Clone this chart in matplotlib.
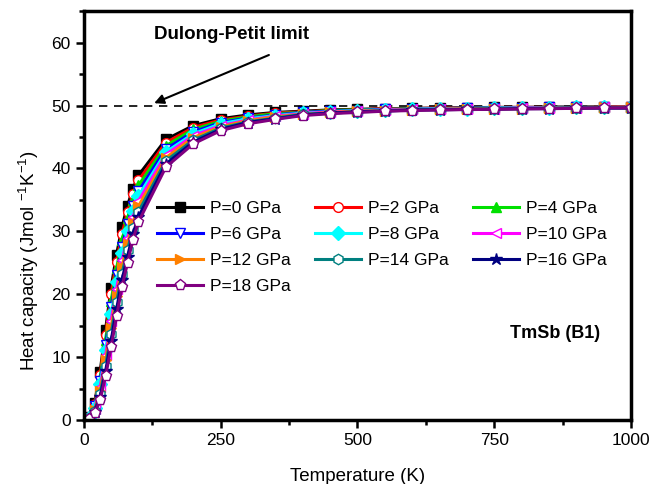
import matplotlib

matplotlib.use("Agg")
import matplotlib.pyplot as plt
from matplotlib.ticker import MultipleLocator

plt.rcParams["font.family"] = ["Liberation Sans", "DejaVu Sans"]
plt.rcParams["mathtext.fontset"] = "custom"
plt.rcParams["mathtext.rm"] = "Liberation Sans"

# temperature grid (K)
temps = [10, 20, 30, 40, 50, 60, 70, 80, 90, 100,
         150, 200, 250, 300, 350, 400, 450, 500, 550, 600,
         650, 700, 750, 800, 850, 900, 950, 1000]

cv_p0 = [0.5, 2.7, 7.7, 14.4, 21.0, 26.3, 30.7, 34.1, 36.8, 38.9,
         44.6, 46.8, 47.9, 48.5, 48.9, 49.1, 49.3, 49.4, 49.5, 49.55,
         49.6, 49.65, 49.7, 49.7, 49.75, 49.75, 49.8, 49.8]
cv_p2 = [0.5, 2.5, 7.2, 13.6, 20.0, 25.2, 29.6, 33.1, 35.9, 38.1,
         44.1, 46.5, 47.7, 48.3, 48.8, 49.0, 49.2, 49.3, 49.5, 49.5,
         49.6, 49.6, 49.7, 49.7, 49.7, 49.7, 49.8, 49.8]
cv_p4 = [0.4, 2.3, 6.7, 12.8, 18.9, 24.1, 28.6, 32.1, 35.0, 37.3,
         43.6, 46.2, 47.5, 48.2, 48.7, 48.9, 49.2, 49.3, 49.4, 49.5,
         49.5, 49.6, 49.6, 49.6, 49.7, 49.7, 49.7, 49.7]
cv_p6 = [0.4, 2.2, 6.2, 11.9, 17.9, 23.0, 27.5, 31.1, 34.1, 36.4,
         43.1, 45.8, 47.3, 48.0, 48.5, 48.9, 49.1, 49.2, 49.4, 49.4,
         49.5, 49.6, 49.6, 49.6, 49.7, 49.7, 49.7, 49.7]
cv_p8 = [0.4, 2.0, 5.7, 11.1, 16.8, 21.9, 26.5, 30.1, 33.2, 35.6,
         42.6, 45.5, 47.1, 47.9, 48.4, 48.8, 49.0, 49.2, 49.3, 49.4,
         49.5, 49.5, 49.6, 49.6, 49.6, 49.7, 49.7, 49.7]
cv_p10 = [0.3, 1.8, 5.2, 10.3, 15.8, 20.9, 25.4, 29.0, 32.3, 34.8,
          42.2, 45.2, 46.8, 47.7, 48.3, 48.7, 49.0, 49.1, 49.3, 49.4,
          49.4, 49.5, 49.5, 49.6, 49.6, 49.6, 49.7, 49.7]
cv_p12 = [0.3, 1.6, 4.7, 9.5, 14.7, 19.8, 24.4, 28.0, 31.4, 34.0,
          41.7, 44.9, 46.6, 47.6, 48.2, 48.6, 48.9, 49.1, 49.2, 49.3,
          49.4, 49.5, 49.5, 49.5, 49.6, 49.6, 49.7, 49.7]
cv_p14 = [0.3, 1.5, 4.2, 8.6, 13.7, 18.7, 23.3, 27.0, 30.5, 33.1,
          41.2, 44.5, 46.4, 47.4, 48.0, 48.6, 48.8, 49.0, 49.2, 49.3,
          49.4, 49.4, 49.5, 49.5, 49.6, 49.6, 49.6, 49.6]
cv_p16 = [0.2, 1.3, 3.7, 7.8, 12.6, 17.6, 22.3, 26.0, 29.6, 32.3,
          40.7, 44.2, 46.2, 47.3, 47.9, 48.5, 48.8, 49.0, 49.1, 49.3,
          49.3, 49.4, 49.4, 49.5, 49.5, 49.6, 49.6, 49.6]
cv_p18 = [0.2, 1.1, 3.2, 7.0, 11.6, 16.5, 21.2, 25.0, 28.7, 31.5,
          40.2, 43.9, 46.0, 47.1, 47.8, 48.4, 48.7, 48.9, 49.1, 49.2,
          49.3, 49.35, 49.4, 49.45, 49.5, 49.55, 49.6, 49.6]

labels = ["P=0 GPa", "P=2 GPa", "P=4 GPa", "P=6 GPa", "P=8 GPa",
          "P=10 GPa", "P=12 GPa", "P=14 GPa", "P=16 GPa", "P=18 GPa"]
series = [cv_p0, cv_p2, cv_p4, cv_p6, cv_p8,
          cv_p10, cv_p12, cv_p14, cv_p16, cv_p18]
colors = ["#000000", "#ff0000", "#00e000", "#0000ff", "#00ffff",
          "#ff00ff", "#ff8000", "#008080", "#000080", "#800080"]
markers = ["s", "o", "^", "v", "D", "<", ">", "h", "*", "p"]
filled = [True, False, True, False, True, False, True, False, True, False]
dulong_petit = 49.9

fig = plt.figure(figsize=(6.54, 4.84), dpi=100)
ax = fig.add_axes([0.128, 0.132, 0.837, 0.845])

handles = []
for cv, lab, c, m, f in zip(series, labels, colors, markers, filled):
    ms = {"*": 9, "p": 8, "h": 7.5}.get(m, 7)
    h, = ax.plot(temps, cv, color=c, lw=2.2, marker=m, ms=ms,
                 mfc=c if f else "white", mec=c, mew=1.0, label=lab)
    handles.append(h)

ax.axhline(dulong_petit, color="black", ls=(0, (5, 4)), lw=1.2, zorder=0)

ax.annotate("", xy=(124, 50.2), xytext=(343, 58.2),
            arrowprops=dict(arrowstyle="-|>", color="black", lw=1.5,
                            mutation_scale=14))
ax.text(271, 61.3, "Dulong-Petit limit", fontsize=13.5, fontweight="bold",
        ha="center", va="center")
ax.text(861, 13.8, "TmSb (B1)", fontsize=13, fontweight="bold",
        ha="center", va="center")

# legend is filled row by row in the original
order = [0, 3, 6, 9, 1, 4, 7, 2, 5, 8]
ax.legend([handles[i] for i in order], [labels[i] for i in order],
          ncol=3, frameon=False, fontsize=12.5, loc="upper left",
          bbox_to_anchor=(0.121, 0.552), handlelength=2.65,
          handletextpad=0.4, columnspacing=1.4, labelspacing=0.62,
          borderaxespad=0)

ax.set_xlim(0, 1000)
ax.set_ylim(0, 65)
ax.xaxis.set_major_locator(MultipleLocator(250))
ax.xaxis.set_minor_locator(MultipleLocator(125))
ax.yaxis.set_major_locator(MultipleLocator(10))
ax.yaxis.set_minor_locator(MultipleLocator(5))
ax.tick_params(which="both", direction="out", width=1.8, labelsize=12.5)
ax.tick_params(which="major", length=6)
ax.tick_params(which="minor", length=3.5)
for s in ax.spines.values():
    s.set_linewidth(2.5)

ax.set_xlabel("Temperature (K)", fontsize=13.5, labelpad=14)
ax.set_ylabel("Heat capacity (Jmol $^{-1}$K$^{-1}$)", fontsize=13.5)
ax.yaxis.set_label_coords(-0.078, 0.39)

fig.savefig("out.png", dpi=100)
